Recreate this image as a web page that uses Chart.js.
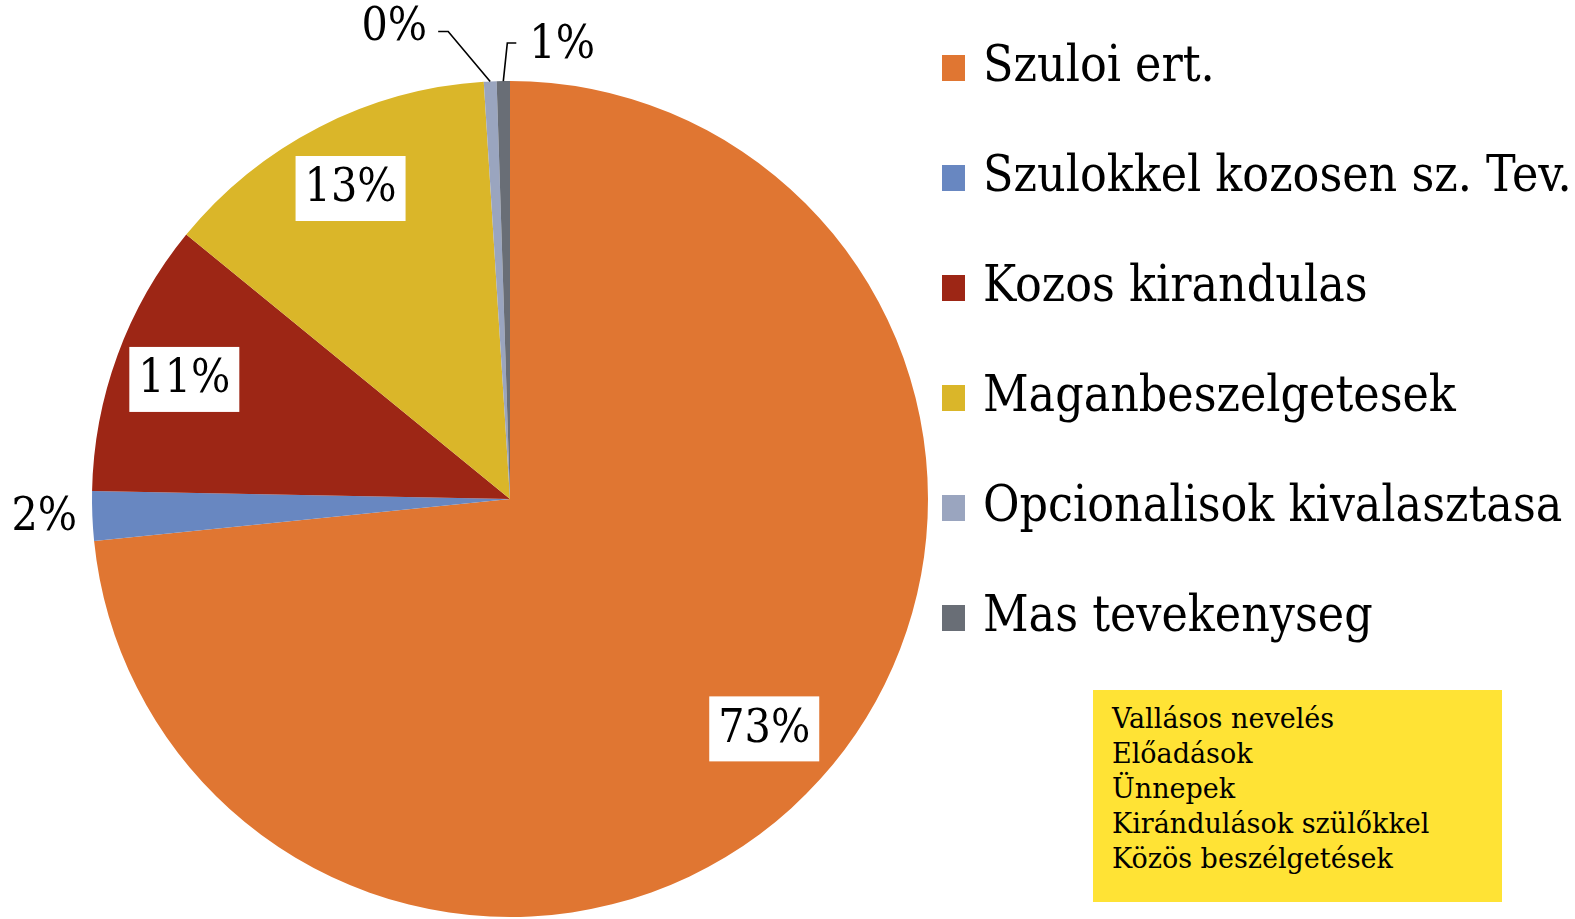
<!DOCTYPE html>
<html lang="hu">
<head>
<meta charset="utf-8">
<title>Szuloi tevekenysegek</title>
<script src="https://cdn.jsdelivr.net/npm/chart.js@4.4.1/dist/chart.umd.min.js"></script>
<style>
  html, body { margin: 0; padding: 0; background: #fff; }
  #wrap { position: relative; width: 1575px; height: 919px; overflow: hidden; }
  #grafico { position: absolute; left: 0; top: 0; }
  .serif { font-family: "DejaVu Serif Condensed", "DejaVu Serif", serif; font-stretch: condensed; color: #000; }
  #legenda { position: absolute; left: 942px; top: 0; }
  .item { position: absolute; left: 0; white-space: nowrap; font-size: 49.5px; line-height: 1; }
  .item i { position: absolute; left: 0; width: 23px; height: 26px; }
  .item span { position: absolute; left: 41px; }
  #nota { position: absolute; left: 1093px; top: 690px; width: 409px; height: 212px; background: #FFE335; }
  #nota div { position: absolute; left: 19px; font-family: "DejaVu Serif", serif; font-stretch: normal; font-size: 27px; line-height: 1; white-space: nowrap; }
</style>
</head>
<body>
<div id="wrap">
  <canvas id="grafico" width="1575" height="919"></canvas>
  <div id="legenda" class="serif"></div>
  <div id="nota" class="serif"></div>
</div>
<script>
// Categorias e percentagens.
const categorias = [
  'Szuloi ert.',
  'Szulokkel kozosen sz. Tev.',
  'Kozos kirandulas',
  'Maganbeszelgetesek',
  'Opcionalisok kivalasztasa',
  'Mas tevekenyseg',
];
const valores = [73.4, 1.9, 10.6, 13.1, 0.49, 0.51];
const cores = ['#E07632', '#6887C1', '#9D2615', '#DAB629', '#9AA5BF', '#696E76'];

// Texto da caixa amarela.
const notas = [
  'Vallásos nevelés',
  'Előadások',
  'Ünnepek',
  'Kirándulások szülőkkel',
  'Közös beszélgetések',
];

const FONTE = '"DejaVu Serif Condensed", "DejaVu Serif", serif';

// Como cada rótulo é colocado: caixa branca dentro, texto fora, ou com linha de chamada.
const posRotulo = [
  { tipo: 'dentro', r: 0.82 },
  { tipo: 'fora', r: 1.115 },
  { tipo: 'dentro', r: 0.83 },
  { tipo: 'dentro', r: 0.835 },
  { tipo: 'linha', dx: -42, dy: -50, traco: -10, lado: 'esq' },
  { tipo: 'linha', dx: 4, dy: -38, traco: 9, lado: 'dir' },
];

const total = valores.reduce((a, b) => a + b, 0);
const pct = (v) => Math.round((v / total) * 100) + '%';

// Desenha as percentagens por cima das fatias.
const rotulosPlugin = {
  id: 'rotulos',
  afterDatasetsDraw(chart) {
    const ctx = chart.ctx;
    const arcos = chart.getDatasetMeta(0).data;
    ctx.save();
    ctx.font = '46px ' + FONTE;
    ctx.fillStyle = '#000';
    ctx.textBaseline = 'middle';

    arcos.forEach((arco, i) => {
      const p = posRotulo[i];
      const txtRot = pct(valores[i]);
      const meio = (arco.startAngle + arco.endAngle) / 2;
      const R = arco.outerRadius;
      const ponto = (r) => [arco.x + Math.cos(meio) * r, arco.y + Math.sin(meio) * r];

      if (p.tipo === 'dentro') {
        const [x, y] = ponto(R * p.r);
        const w = 110;
        const h = 65;
        ctx.fillStyle = '#fff';
        ctx.fillRect(x - w / 2, y - h / 2, w, h);
        ctx.fillStyle = '#000';
        ctx.textAlign = 'center';
        ctx.fillText(txtRot, x, y + 1);
      } else if (p.tipo === 'fora') {
        const [x, y] = ponto(R * p.r);
        ctx.textAlign = 'center';
        ctx.fillText(txtRot, x, y);
      } else {
        const [x0, y0] = ponto(R);
        const x1 = x0 + p.dx, y1 = y0 + p.dy;
        const x2 = x1 + p.traco;
        ctx.strokeStyle = '#000';
        ctx.lineWidth = 1.6;
        ctx.beginPath();
        ctx.moveTo(x0, y0);
        ctx.lineTo(x1, y1);
        ctx.lineTo(x2, y1);
        ctx.stroke();
        if (p.lado === 'esq') {
          ctx.textAlign = 'right';
          ctx.fillText(txtRot, x2 - 11, y1 - 3);
        } else {
          ctx.textAlign = 'left';
          ctx.fillText(txtRot, x2 + 13, y1 + 3);
        }
      }
    });
    ctx.restore();
  },
};

new Chart(document.getElementById('grafico'), {
  type: 'pie',
  data: {
    labels: categorias,
    datasets: [{
      data: valores,
      backgroundColor: cores,
      borderWidth: 0,
      hoverOffset: 0,
    }],
  },
  options: {
    responsive: false,
    animation: false,
    layout: { padding: { left: 92, right: 647, top: 81, bottom: 2 } },
    plugins: {
      legend: { display: false },
      tooltip: { enabled: false },
    },
  },
  plugins: [rotulosPlugin],
});

// Legenda à direita, uma linha por categoria.
const legenda = document.getElementById('legenda');
categorias.forEach((c, i) => {
  const topo = 55 + i * 110;
  const el = document.createElement('div');
  el.className = 'item';
  el.style.top = topo + 'px';
  el.innerHTML = `<i style="background:${cores[i]}"></i><span style="top:-15px">${c}</span>`;
  legenda.appendChild(el);
});

const nota = document.getElementById('nota');
notas.forEach((t, i) => {
  const el = document.createElement('div');
  el.style.top = (15 + i * 35) + 'px';
  el.textContent = t;
  nota.appendChild(el);
});
</script>
</body>
</html>
